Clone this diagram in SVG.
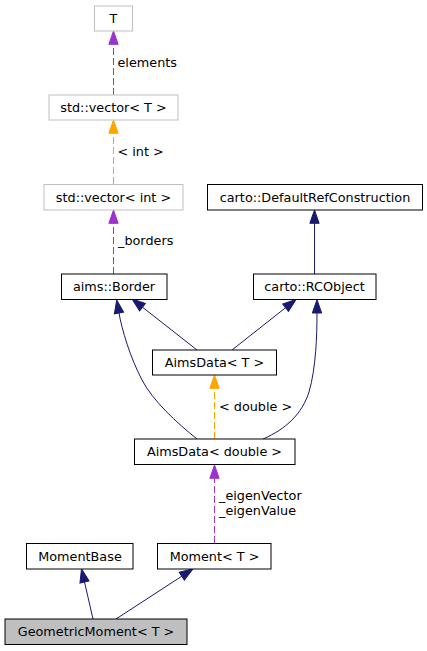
<svg xmlns="http://www.w3.org/2000/svg" width="427" height="651" viewBox="0 0 427 651">
<style>
text{font-family:"DejaVu Sans","Liberation Sans",sans-serif;font-size:12.8px;fill:#000}
.n text{text-anchor:middle}
.box{fill:#fff;stroke:#000;stroke-width:1}
.gbox{fill:#fff;stroke:#bfbfbf;stroke-width:1}
.cur{fill:#bfbfbf;stroke:#000;stroke-width:1}
.e{fill:none;stroke-width:1}
.nv{stroke:#191970;marker-end:url(#aN)}
.pu{stroke:#9a32cd;stroke-dasharray:7,3;marker-end:url(#aP)}
.or{stroke:#ffa500;stroke-dasharray:7,3;marker-end:url(#aO)}
</style>
<defs>
<marker id="aN" markerUnits="userSpaceOnUse" markerWidth="16" markerHeight="12" viewBox="-1 -1 16 12" refX="0" refY="4.67" orient="auto"><path d="M0,0 L13.3,4.67 L0,9.33 z" fill="#191970" stroke="#191970"/></marker>
<marker id="aP" markerUnits="userSpaceOnUse" markerWidth="16" markerHeight="12" viewBox="-1 -1 16 12" refX="0" refY="4.67" orient="auto"><path d="M0,0 L13.3,4.67 L0,9.33 z" fill="#9a32cd" stroke="#9a32cd"/></marker>
<marker id="aO" markerUnits="userSpaceOnUse" markerWidth="16" markerHeight="12" viewBox="-1 -1 16 12" refX="0" refY="4.67" orient="auto"><path d="M0,0 L13.3,4.67 L0,9.33 z" fill="#ffa500" stroke="#ffa500"/></marker>
</defs>
<rect width="427" height="651" fill="#fff"/>
<g id="edges">
<path class="e pu" d="M113.5,95 L113.5,44.3"/>
<path class="e or" d="M113.5,184 L113.5,133.3"/>
<path class="e pu" d="M113.5,274 L113.5,223.3"/>
<path class="e nv" d="M314.5,274 L314.5,223.3"/>
<path class="e nv" d="M197,350 L142.5,307.2"/>
<path class="e nv" d="M232,350 L285.6,307.7"/>
<path class="e nv" d="M197,439 C177,423 153,401 142,380 C130,357 122,330 119,313"/>
<path class="e nv" d="M263,439 C286,429 302,414 309,392 C316,368 317,335 317,313"/>
<path class="e or" d="M214.5,439 L214.5,388.3"/>
<path class="e pu" d="M214.5,543 L214.5,478.3"/>
<path class="e nv" d="M93,619 L84.5,582"/>
<path class="e nv" d="M116,619 L181.8,576.2"/>
<text x="117.5" y="66.5">elements</text>
<text x="117.5" y="155.5">&lt; int &gt;</text>
<text x="118" y="245">_borders</text>
<text x="219" y="411">&lt; double &gt;</text>
<text x="219" y="500">_eigenVector</text>
<text x="219" y="514.5">_eigenValue</text>
</g>
<g id="node-T" class="n"><rect class="gbox" x="94.5" y="6" width="38" height="25"/><text x="113.5" y="23">T</text></g>
<g id="node-vecT" class="n"><rect class="gbox" x="49" y="95" width="129" height="25"/><text x="113.5" y="112">std::vector&lt; T &gt;</text></g>
<g id="node-vecint" class="n"><rect class="gbox" x="44" y="184.5" width="139" height="25.5"/><text x="113.5" y="201.5">std::vector&lt; int &gt;</text></g>
<g id="node-defref" class="n"><rect class="box" x="207.5" y="184.5" width="215" height="25.5"/><text x="315" y="201.5">carto::DefaultRefConstruction</text></g>
<g id="node-border" class="n"><rect class="box" x="61.5" y="274" width="105.5" height="25.5"/><text x="114" y="291">aims::Border</text></g>
<g id="node-rcobject" class="n"><rect class="box" x="253.5" y="274" width="122.5" height="25.5"/><text x="314.5" y="291">carto::RCObject</text></g>
<g id="node-aimsdataT" class="n"><rect class="box" x="152.5" y="350" width="124" height="25"/><text x="214.5" y="367">AimsData&lt; T &gt;</text></g>
<g id="node-aimsdatadouble" class="n"><rect class="box" x="134.5" y="439" width="160.5" height="25.5"/><text x="214.5" y="456">AimsData&lt; double &gt;</text></g>
<g id="node-momentbase" class="n"><rect class="box" x="26.5" y="543.5" width="106.5" height="25.5"/><text x="80" y="560.5">MomentBase</text></g>
<g id="node-moment" class="n"><rect class="box" x="157.5" y="543.5" width="113.5" height="25.5"/><text x="214.5" y="560.5">Moment&lt; T &gt;</text></g>
<g id="node-geometric" class="n"><rect class="cur" x="5" y="619" width="182" height="25.5"/><text x="96" y="636">GeometricMoment&lt; T &gt;</text></g>
</svg>
